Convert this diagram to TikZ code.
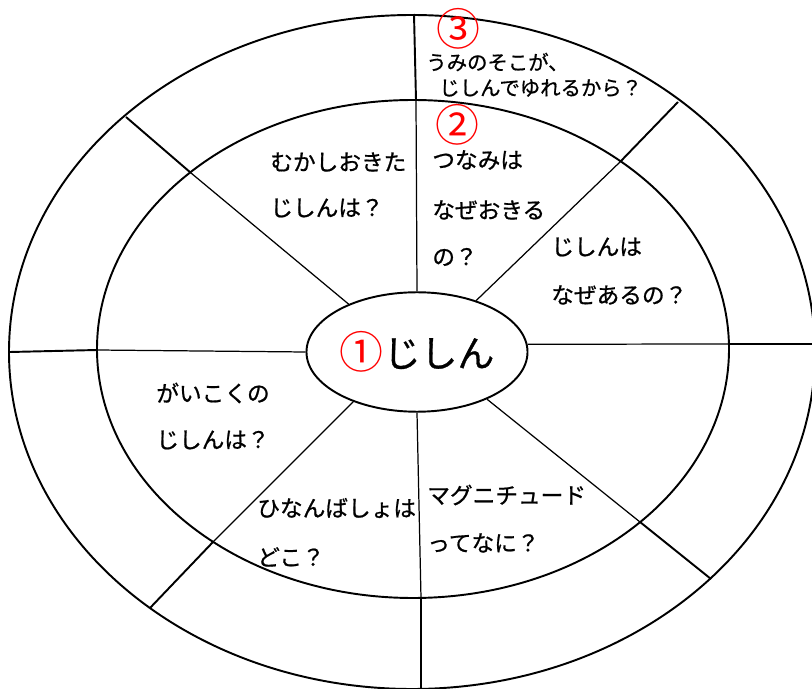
\documentclass[tikz,border=0pt]{standalone}
\usepackage{fontspec}
\newfontfamily\jp{Noto Sans CJK JP}
\newfontfamily\jpheavy[FakeBold=0.8]{Noto Sans CJK JP}
\usetikzlibrary{shapes.geometric}
\usetikzlibrary{positioning}
\tikzset{
	ring/.style={line width=1.1pt},
	inspoke/.style={line width=0.7pt},
	outspoke/.style={line width=1.1pt},
	question/.style={anchor=west, inner sep=0pt, font=\jpheavy\fontsize{12.9}{15}\selectfont},
	smallquestion/.style={anchor=west, inner sep=0pt, font=\jpheavy\fontsize{11.6}{13}\selectfont},
	num/.style={inner sep=0pt, text=red, font=\jp\fontsize{25}{28}\selectfont}
}
\newcommand{\spoke}[3]{\draw[inspoke] #1 -- #2;
					\draw[outspoke] #2 -- #3;}

\begin{document}
\begin{tikzpicture}[x=0.02cm, y=-0.02cm]
	\useasboundingbox (0,0) rectangle (812,689);
	
	\draw[ring] (412,352) ellipse (403 and 337);
	\draw[ring] (413,349) ellipse (316 and 249);
	\node[ellipse, draw, ring, minimum width=125.8pt, minimum height=68pt, inner sep=0pt,
		font=\jpheavy\fontsize{21}{24}\selectfont] (quake) at (417,352)
		{\raisebox{-1pt}{\jp\fontsize{25}{28}\selectfont\color{red}①}じしん};
	
	\coordinate (t1) at (416,100);
	\coordinate (t2) at (414,14);
	\coordinate (ur1) at (620,162);
	\coordinate (ur2) at (678,102);
	\coordinate (r1) at (728,344);
	\coordinate (r2) at (812,344);
	\coordinate (lr1) at (640,522);
	\coordinate (lr2) at (711,579);
	\coordinate (b1) at (421,598);
	\coordinate (b2) at (421,689);
	\coordinate (ll1) at (213,542);
	\coordinate (ll2) at (150,608);
	\coordinate (l1) at (97,350);
	\coordinate (l2) at (10,352);
	\coordinate (ul1) at (191,173);
	\coordinate (ul2) at (126,117);
	
	\spoke{(quake.north)}{(t1)}{(t2)}
	\spoke{(quake.41)}{(ur1)}{(ur2)}
	\spoke{(quake.4)}{(r1)}{(r2)}
	\spoke{(quake.-34)}{(lr1)}{(lr2)}
	\spoke{(quake.south)}{(b1)}{(b2)}
	\spoke{(quake.218)}{(ll1)}{(ll2)}
	\spoke{(quake.west)}{(l1)}{(l2)}
	\spoke{(quake.145)}{(ul1)}{(ul2)}
	
	\node[num] (n2) at (457,125) {②};
	\node[num] (n3) at (458,29) {③};
	
	\node[smallquestion] (sea1) at (426,62) {うみのそこが、};
	\node[smallquestion] (sea2) at (439,88) {じしんでゆれるから？};
	
	\node[question] (past1) at (270,162) {むかしおきた};
	\node[question] (past2) at (270,208) {じしんは？};
	
	\node[question] (tsunami1) at (432,160) {つなみは};
	\node[question] (tsunami2) at (432,210) {なぜおきる};
	\node[question] (tsunami3) at (432,257) {の？};
	
	\node[question] (why1) at (551,247) {じしんは};
	\node[question] (why2) at (551,295) {なぜあるの？};
	
	\node[question] (abroad1) at (156,393) {がいこくの};
	\node[question] (abroad2) at (156,440) {じしんは？};
	
	\node[question] (shelter1) at (257,508) {ひなんばしょは};
	\node[question] (shelter2) at (257,557) {どこ？};
	
	\node[question] (mag1) at (427,495) {マグニチュード};
	\node[question] (mag2) at (427,543) {ってなに？};
	
\end{tikzpicture}
\end{document}
